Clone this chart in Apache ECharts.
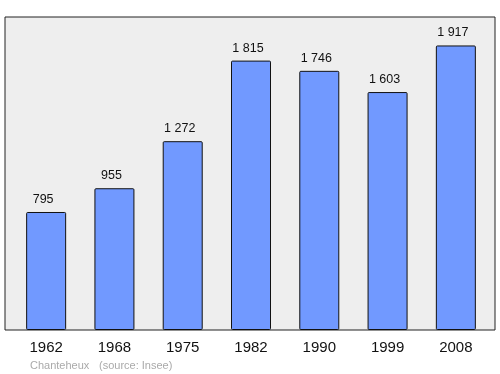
<!DOCTYPE html>
<html><head><meta charset="utf-8">
<script src="https://cdn.jsdelivr.net/npm/echarts@6/dist/echarts.min.js"></script>
<style>html,body{margin:0;padding:0;background:#fff}#c{width:500px;height:374px}</style>
</head><body><div id="c"></div>
<script>
var years = ['1962','1968','1975','1982','1990','1999','2008'];
var population = [795, 955, 1272, 1815, 1746, 1603, 1917];
var labels = ['795','955','1 272','1 815','1 746','1 603','1 917'];
var chart = echarts.init(document.getElementById('c'));
chart.setOption({
  animation: false,
  grid: [
    {left: 5, right: 5, top: 17, bottom: 44, show: true, backgroundColor: '#eeeeee', borderColor: '#222', borderWidth: 1},
    {left: 12, right: 10, top: 17, bottom: 44}
  ],
  xAxis: [
    {gridIndex: 0, type: 'value', show: false},
    {gridIndex: 1, type: 'category', data: years, axisLine: {show: false}, axisTick: {show: false},
     axisLabel: {color: '#111', fontFamily: 'Liberation Sans, Arial, sans-serif', fontSize: 15, margin: 10}}
  ],
  yAxis: [
    {gridIndex: 0, type: 'value', show: false},
    {gridIndex: 1, type: 'value', min: 0, max: 2108.7, show: false, splitLine: {show: false}}
  ],
  series: [{
    type: 'bar', xAxisIndex: 1, yAxisIndex: 1, data: population, barWidth: 40,
    itemStyle: {color: '#7199ff', borderColor: '#111', borderWidth: 1, borderRadius: 1},
    label: {show: true, position: 'top', distance: 6, offset: [-3, 0], color: '#111', fontSize: 12.5,
      fontFamily: 'Liberation Sans, Arial, sans-serif',
      formatter: function(p){ return labels[p.dataIndex]; }}
  }],
  graphic: [
    {type: 'text', left: 30, top: 360, style: {text: 'Chanteheux', fill: '#aaaaaa', fontSize: 11, fontFamily: 'Liberation Sans, Arial, sans-serif'}},
    {type: 'text', left: 99, top: 360, style: {text: '(source: Insee)', fill: '#aaaaaa', fontSize: 11, fontFamily: 'Liberation Sans, Arial, sans-serif'}}
  ]
});
</script></body></html>
